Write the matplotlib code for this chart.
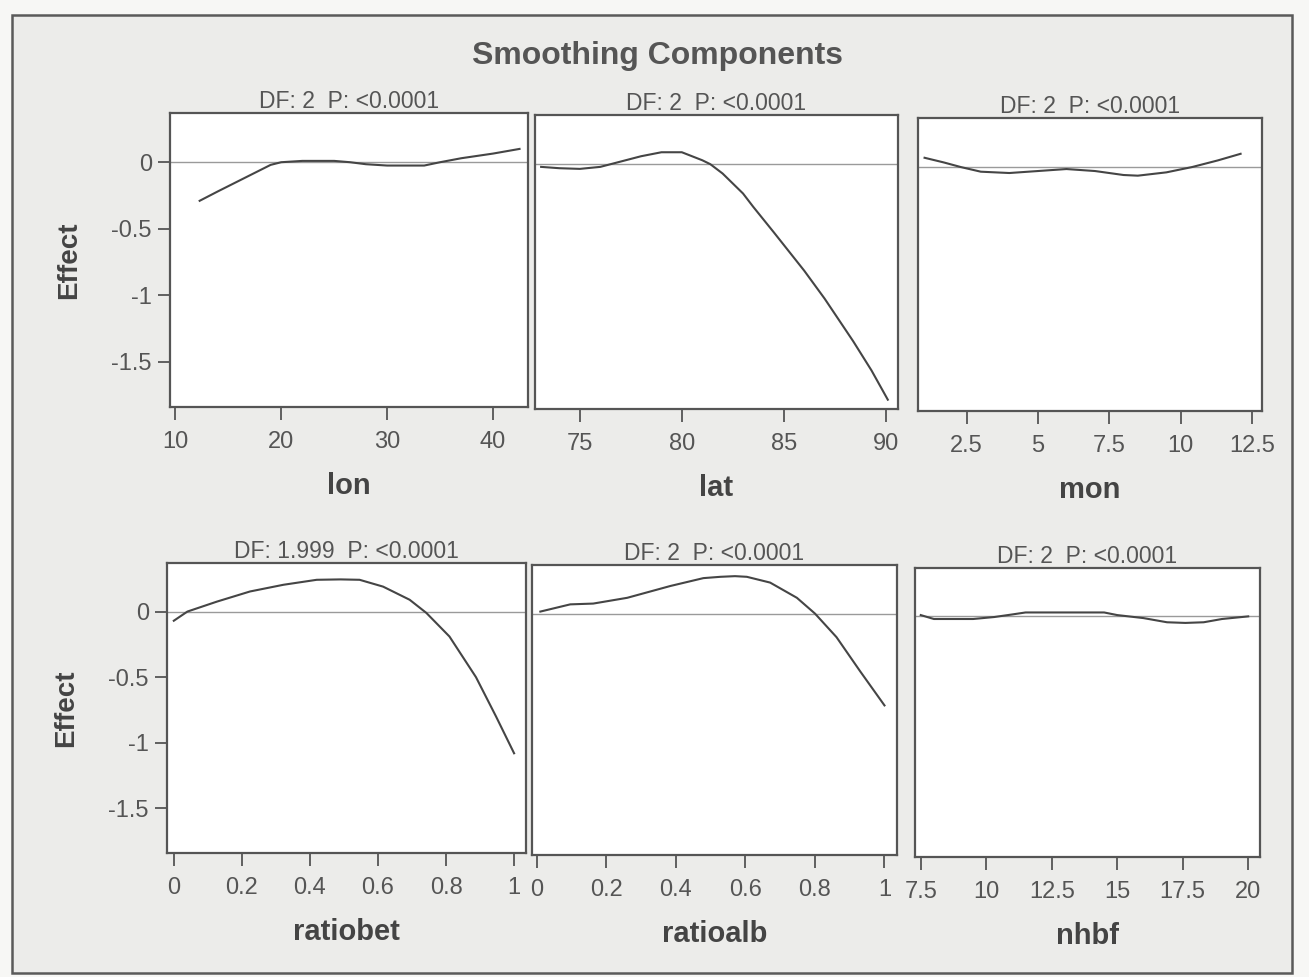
import matplotlib
matplotlib.use("Agg")
import matplotlib.pyplot as plt
from matplotlib.patches import Rectangle

# smoothing component curves
lon_x = [12.3, 14, 16, 17.5, 19, 20, 22, 25, 26.5, 28, 30, 33.5, 35, 37, 40, 42.5]
lon_y = [-0.29, -0.22, -0.14, -0.08, -0.02, 0.0, 0.01, 0.01, 0.0, -0.015, -0.025, -0.025, 0.0, 0.03, 0.065, 0.1]

lat_x = [73.1, 74, 75, 76, 77, 78, 79, 80, 81, 81.4, 82, 83, 83.5, 84.5, 86, 87, 88.4, 89.3, 90.1]
lat_y = [-0.02, -0.03, -0.035, -0.02, 0.02, 0.06, 0.09, 0.09, 0.03, 0.0, -0.07, -0.22, -0.32, -0.51, -0.8, -1.01, -1.33, -1.55, -1.77]

mon_x = [1.03, 1.7, 2.3, 3, 4, 5, 6, 7, 8, 8.5, 9.5, 10.4, 11.3, 12.1]
mon_y = [0.07, 0.035, 0.0, -0.035, -0.045, -0.03, -0.015, -0.03, -0.06, -0.065, -0.04, 0.0, 0.05, 0.1]

ratiobet_x = [0.0, 0.04, 0.127, 0.224, 0.322, 0.42, 0.49, 0.546, 0.615, 0.693, 0.742, 0.81, 0.888, 0.947, 1.0]
ratiobet_y = [-0.07, 0.0, 0.076, 0.153, 0.204, 0.242, 0.245, 0.242, 0.19, 0.09, -0.01, -0.19, -0.5, -0.8, -1.08]

ratioalb_x = [0.01, 0.096, 0.162, 0.26, 0.384, 0.479, 0.528, 0.57, 0.604, 0.671, 0.748, 0.8, 0.862, 0.93, 1.0]
ratioalb_y = [0.015, 0.07, 0.076, 0.12, 0.21, 0.27, 0.28, 0.285, 0.28, 0.236, 0.12, 0.0, -0.18, -0.44, -0.7]

nhbf_x = [7.5, 8.0, 9.5, 10.3, 11.0, 11.5, 13.0, 14.5, 15.0, 16.0, 16.9, 17.6, 18.3, 19.0, 20.0]
nhbf_y = [0.01, -0.02, -0.02, -0.005, 0.015, 0.03, 0.03, 0.03, 0.01, -0.013, -0.045, -0.05, -0.045, -0.02, 0.0]

names = ["lon", "lat", "mon", "ratiobet", "ratioalb", "nhbf"]
dfs = ["2", "2", "2", "1.999", "2", "2"]
xs = [lon_x, lat_x, mon_x, ratiobet_x, ratioalb_x, nhbf_x]
ys = [lon_y, lat_y, mon_y, ratiobet_y, ratioalb_y, nhbf_y]

xticks = [[10, 20, 30, 40], [75, 80, 85, 90], [2.5, 5, 7.5, 10, 12.5],
          [0, 0.2, 0.4, 0.6, 0.8, 1], [0, 0.2, 0.4, 0.6, 0.8, 1], [7.5, 10, 12.5, 15, 17.5, 20]]
xticklabels = [["10", "20", "30", "40"], ["75", "80", "85", "90"], ["2.5", "5", "7.5", "10", "12.5"],
               ["0", "0.2", "0.4", "0.6", "0.8", "1"], ["0", "0.2", "0.4", "0.6", "0.8", "1"],
               ["7.5", "10", "12.5", "15", "17.5", "20"]]
xlims = [(9.5, 43.3), (72.8, 90.6), (0.8, 12.85), (-0.02, 1.035), (-0.014, 1.036), (7.28, 20.45)]

yticks = [0, -0.5, -1, -1.5]
yticklabels = ["0", "-0.5", "-1", "-1.5"]

W, H = 1309, 977
plt.rcParams['font.family'] = ['Liberation Sans', 'DejaVu Sans']
fig = plt.figure(figsize=(W / 100, H / 100), dpi=100, facecolor="#f7f7f5")

# scanned page frame
fig.patches.append(Rectangle((12 / W, 1 - 973 / H), 1280 / W, 958 / H, transform=fig.transFigure,
                             facecolor="#ececea", edgecolor="#5a5a5a", lw=1.8, zorder=-1))

# axes boxes in pixels: left, top, right, bottom
boxes = [(170, 113, 528, 407), (535, 115, 898, 409), (918, 118, 1262, 411),
         (167, 563, 526, 853), (532, 565, 897, 855), (915, 568, 1260, 857)]

gray = "#555555"
for i, (l, t, r, b) in enumerate(boxes):
    ax = fig.add_axes([l / W, 1 - b / H, (r - l) / W, (b - t) / H])
    ax.set_facecolor("white")
    ax.axhline(0, color="#9a9a9a", lw=1.0)
    ax.plot(xs[i], ys[i], color="#454545", lw=1.5)
    ax.set_xlim(*xlims[i])
    ax.set_ylim(-1.84, 0.37)
    ax.set_xticks(xticks[i])
    ax.set_xticklabels(xticklabels[i])
    if i % 3 == 0:
        ax.set_yticks(yticks)
        ax.set_yticklabels(yticklabels)
        ax.set_ylabel("Effect", fontsize=20, fontweight="bold", color="#444444", labelpad=21)
    else:
        ax.set_yticks([])
    ax.tick_params(direction="out", length=9, width=1.3, color=gray, labelcolor=gray,
                   labelsize=17)
    ax.tick_params(axis="x", pad=8)
    ax.tick_params(axis="y", pad=4)
    for s in ax.spines.values():
        s.set_color(gray)
        s.set_linewidth(1.6)
    ax.set_title("DF: %s  P: <0.0001" % dfs[i], fontsize=16.5, color=gray, pad=3)
    ax.set_xlabel(names[i], fontsize=21, fontweight="bold", color="#444444", labelpad=14)

fig.text(658 / W, 1 - 56 / H, "Smoothing Components", ha="center", va="center",
         fontsize=23, fontweight="bold", color="#555555")

fig.savefig("out.png", dpi=100, facecolor=fig.get_facecolor())
